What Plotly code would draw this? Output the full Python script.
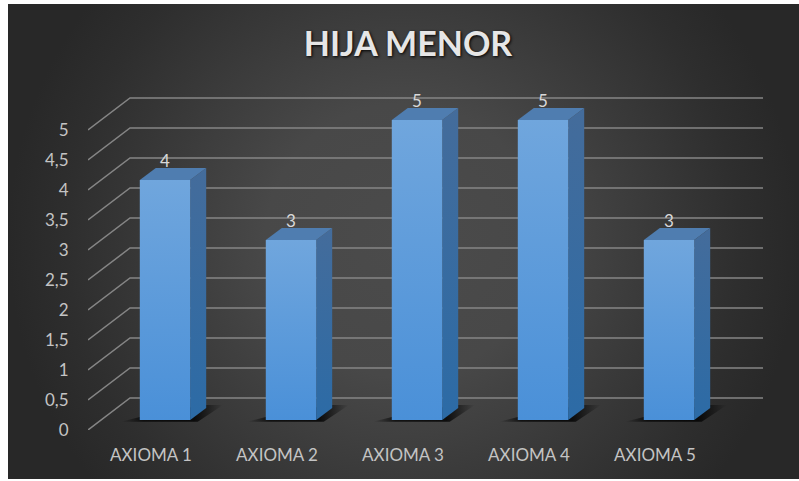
import plotly.graph_objects as go

categories = ['AXIOMA 1', 'AXIOMA 2', 'AXIOMA 3', 'AXIOMA 4', 'AXIOMA 5']
values = [4, 3, 5, 5, 3]
y_ticks = [0, 0.5, 1, 1.5, 2, 2.5, 3, 3.5, 4, 4.5, 5]
y_tick_labels = ['0', '0,5', '1', '1,5', '2', '2,5', '3', '3,5', '4', '4,5', '5']

W, H = 799, 481
TEXT = '#c4c4c4'
FONT = 'Lato'

# fake 3D: the depth shifts, in axis units (1 category = 126px, 1 value = 60px)
WALL_DX, WALL_DY = 1 / 3, 0.533
BAR_X, BAR_Y = 0.111, 0.167
BAR_HALF = 0.2
BAR_DX, BAR_DY = 0.127, 0.2
X_MIN, X_BACK_END = -0.5, 4.857


def poly(xs, ys, **kw):
    return go.Scatter(x=xs + xs[:1], y=ys + ys[:1], mode='lines', fill='toself',
                      line=dict(width=0), hoverinfo='skip', showlegend=False,
                      cliponaxis=False, xaxis='x2', yaxis='y2', **kw)


def grad(kind, low, high):
    return dict(type=kind, colorscale=[[0, low], [1, high]])


fig = go.Figure()

# chart background; taller than its axes so the radial glow comes out round
fig.add_trace(go.Scatter(
    x=[8, W, W, 8, 8], y=[-150, -150, 630, 630, -150], mode='lines', fill='toself',
    line=dict(width=0), hoverinfo='skip', showlegend=False,
    fillgradient=dict(type='radial', colorscale=[
        [0, '#4b4b4b'], [0.35, '#484848'], [0.6, '#3b3b3b'], [0.85, '#2e2e2e'], [1, '#282828']]),
))

# gridlines along the side wall and the back wall
for t in y_ticks:
    fig.add_trace(go.Scatter(
        x=[X_MIN, X_MIN + WALL_DX, X_BACK_END],
        y=[t, t + WALL_DY, t + WALL_DY],
        mode='lines', line=dict(color='#858585', width=1.5),
        hoverinfo='skip', showlegend=False, cliponaxis=False,
        xaxis='x2', yaxis='y2',
    ))

for i, v in enumerate(values):
    left = i + BAR_X - BAR_HALF
    right = i + BAR_X + BAR_HALF
    base = BAR_Y
    top = v + BAR_Y

    # floor shadow
    fig.add_trace(poly(
        [left - 0.15, right + 0.06, right + 0.26, right + 0.1, left],
        [base - 0.03, base - 0.03, base + 0.25, base + 0.25, base + 0.05],
        fillgradient=dict(type='horizontal', colorscale=[
            [0, 'rgba(0,0,0,0)'], [0.22, 'rgba(0,0,0,0.7)'],
            [0.72, 'rgba(0,0,0,0.8)'], [1, 'rgba(0,0,0,0)']]),
    ))
    # side face
    fig.add_trace(poly(
        [right, right + BAR_DX, right + BAR_DX, right],
        [base, base + BAR_DY, top + BAR_DY, top],
        fillgradient=grad('vertical', '#2c6ba6', '#446c9b'),
    ))
    # top face
    fig.add_trace(poly(
        [left, right, right + BAR_DX, left + BAR_DX],
        [top, top, top + BAR_DY, top + BAR_DY],
        fillcolor='#4f7db0',
    ))
    # front face
    fig.add_trace(poly(
        [left, right, right, left],
        [base, base, top, top],
        fillgradient=grad('vertical', '#4a90d8', '#70a6dd'),
    ))

# data labels, centred over the bar tops
fig.add_trace(go.Scatter(
    x=[i + BAR_X for i in range(len(values))],
    y=[v + BAR_Y + BAR_DY + 0.09 for v in values],
    mode='text', text=[str(v) for v in values], textposition='middle center',
    textfont=dict(family=FONT, size=17, color='#d9d9d9'),
    hoverinfo='skip', showlegend=False, cliponaxis=False,
    xaxis='x2', yaxis='y2',
))

fig.update_layout(
    width=W, height=H,
    margin=dict(l=0, r=0, t=0, b=0),
    paper_bgcolor='white',
    plot_bgcolor='rgba(0,0,0,0)',
    showlegend=False,
    title=dict(
        text='<b>HIJA MENOR</b>', x=408 / W, xanchor='center', y=1 - 44 / H, yanchor='middle',
        font=dict(family=FONT, size=34, color='#e6e6e6', shadow='1px 1px 3px #000000'),
    ),
    xaxis=dict(domain=[8 / W, 1], range=[8, W], visible=False, fixedrange=True, automargin=False),
    yaxis=dict(domain=[(H - 479) / H, (H - 4) / H], range=[479, 4], visible=False,
               fixedrange=True, automargin=False),
    xaxis2=dict(
        domain=[88 / W, 763 / W], range=[X_MIN, X_BACK_END], anchor='y2', automargin=False,
        tickmode='array', tickvals=list(range(len(categories))), ticktext=categories,
        showgrid=False, zeroline=False, showline=False,
        ticks='outside', ticklen=10, tickcolor='rgba(0,0,0,0)',
        tickfont=dict(family=FONT, size=17, color=TEXT),
    ),
    yaxis2=dict(
        domain=[(H - 430) / H, (H - 94) / H], range=[0, 5.6], anchor='x2', automargin=False,
        tickmode='array', tickvals=y_ticks, ticktext=y_tick_labels,
        showgrid=False, zeroline=False, showline=False,
        ticks='outside', ticklen=15, tickcolor='rgba(0,0,0,0)',
        tickfont=dict(family=FONT, size=17, color=TEXT),
    ),
)

# the browser's default body margin would push the figure off the page
fig.write_html("out.html", config=dict(displayModeBar=False),
               post_script="document.body.style.margin='0';")
